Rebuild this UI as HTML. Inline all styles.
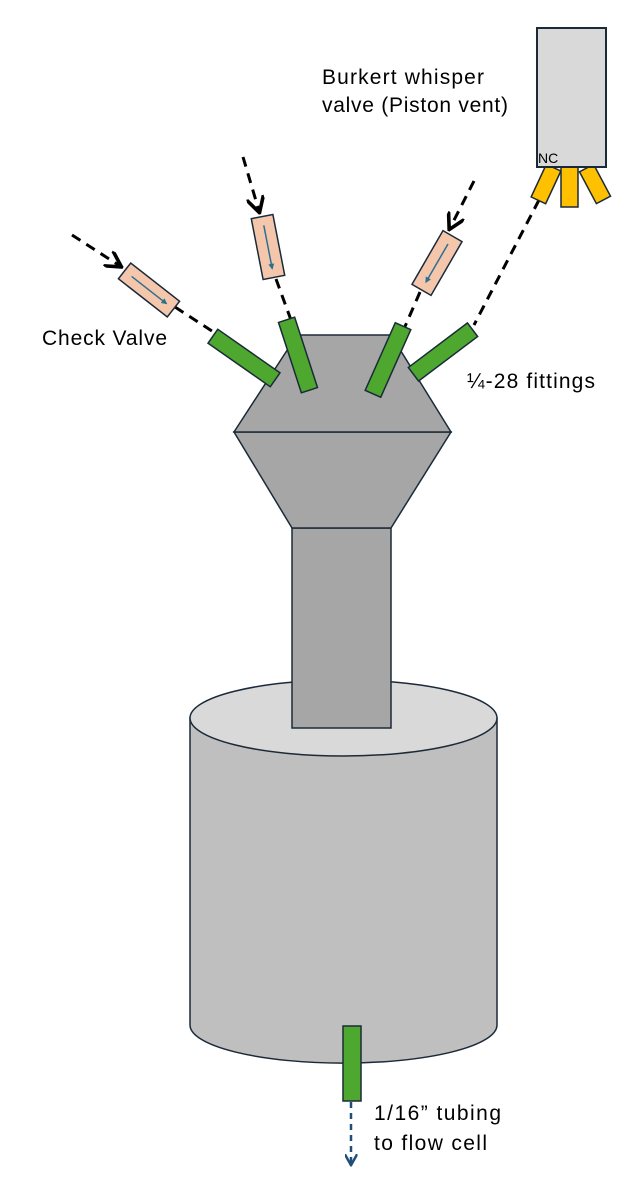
<!DOCTYPE html>
<html><head><style>
html,body{margin:0;padding:0;background:#fff;}
svg{display:block;font-family:"Liberation Sans",sans-serif;}
</style></head><body>
<svg width="630" height="1198" viewBox="0 0 630 1198">
<defs>
<marker id="ah" viewBox="0 0 10 10" refX="8" refY="5" markerWidth="6" markerHeight="6" orient="auto"><path d="M0,0 L9,5 L0,10" fill="none" stroke="#000" stroke-width="2"/></marker>
<marker id="ahb" viewBox="0 0 10 10" refX="8" refY="5" markerWidth="5" markerHeight="5" orient="auto"><path d="M0,0 L9,5 L0,10" fill="none" stroke="#1f4e79" stroke-width="2"/></marker>
<marker id="sa" viewBox="0 0 10 10" refX="8" refY="5" markerWidth="4" markerHeight="4" orient="auto"><path d="M0,0 L10,5 L0,10 Z" fill="#2e6f8e"/></marker>
</defs>
<g>
<path d="M190,718 L190,1025 A153,38 0 0 0 497,1025 L497,718 Z" fill="#bfbfbf" stroke="#1b2a38" stroke-width="1.5"/>
<ellipse cx="343.5" cy="718" rx="153.5" ry="38" fill="#d9d9d9" stroke="#1b2a38" stroke-width="1.5"/>
</g>
<g>
<rect x="292" y="528" width="99" height="200" fill="#a6a6a6" stroke="#1b2a38" stroke-width="1.5"/>
<polygon points="234,432 451,432 391,528 292,528" fill="#a6a6a6" stroke="#1b2a38" stroke-width="1.5"/>
<polygon points="297,335 391,335 451,432 234,432" fill="#a6a6a6" stroke="#1b2a38" stroke-width="1.5"/>
</g>
<g fill="none" stroke="#000" stroke-width="3" stroke-dasharray="10,7">
<line x1="72" y1="235" x2="120" y2="266" marker-end="url(#ah)"/>
<line x1="175" y1="307" x2="215" y2="333"/>
<line x1="243" y1="157" x2="259" y2="211" marker-end="url(#ah)"/>
<line x1="276" y1="279" x2="291" y2="320"/>
<line x1="474" y1="181" x2="450" y2="228" marker-end="url(#ah)"/>
<line x1="420" y1="292" x2="400" y2="338"/>
<line x1="539" y1="200" x2="474" y2="325"/>
</g>
<line x1="351" y1="1102" x2="351" y2="1164" stroke="#1f4e79" stroke-width="2.5" stroke-dasharray="6,5" marker-end="url(#ahb)"/>
<g fill="#f4c7ac" stroke="#1b2a38" stroke-width="1.5">
<g transform="translate(149,290) rotate(38)"><rect x="-31" y="-10" width="62" height="20"/><line x1="-22" y1="0" x2="22" y2="0" stroke="#2e6f8e" stroke-width="1.5" marker-end="url(#sa)"/></g>
<g transform="translate(268,247) rotate(79)"><rect x="-31" y="-11" width="62" height="22"/><line x1="-22" y1="0" x2="22" y2="0" stroke="#2e6f8e" stroke-width="1.5" marker-end="url(#sa)"/></g>
<g transform="translate(437,263) rotate(120)"><rect x="-31" y="-11" width="62" height="22"/><line x1="-22" y1="0" x2="22" y2="0" stroke="#2e6f8e" stroke-width="1.5" marker-end="url(#sa)"/></g>
</g>
<g fill="#4ea72e" stroke="#1b2a38" stroke-width="1.5">
<rect x="-38" y="-8.5" width="76" height="17" transform="translate(244,358) rotate(35)"/>
<rect x="-37" y="-8.5" width="74" height="17" transform="translate(298,355) rotate(72)"/>
<rect x="-37" y="-8.5" width="74" height="17" transform="translate(388,360) rotate(114)"/>
<rect x="-37" y="-8.5" width="74" height="17" transform="translate(443,352) rotate(-37)"/>
<rect x="343" y="1026" width="18" height="75"/>
</g>
<g>
<g fill="#ffc000" stroke="#1b2a38" stroke-width="1.5">
<rect x="-8" y="-18" width="16" height="36" transform="translate(546,184) rotate(25)"/>
<rect x="561" y="167" width="17" height="40"/>
<rect x="-8" y="-18" width="16" height="36" transform="translate(595,184) rotate(-28)"/>
</g>
<rect x="537" y="28" width="69" height="139" fill="#d9d9d9" stroke="#1b2a38" stroke-width="2"/>
<text x="538" y="163" font-size="14" fill="#000">NC</text>
</g>
<g font-size="21" fill="#000">
<text x="322" y="84" textLength="162">Burkert whisper</text>
<text x="322" y="112" textLength="186">valve (Piston vent)</text>
<text x="42" y="345" textLength="125">Check Valve</text>
<text x="467" y="388" textLength="128">¼-28 fittings</text>
<text x="374" y="1120" textLength="127">1/16” tubing</text>
<text x="374" y="1150" textLength="113">to flow cell</text>
</g>
</svg>
</body></html>
